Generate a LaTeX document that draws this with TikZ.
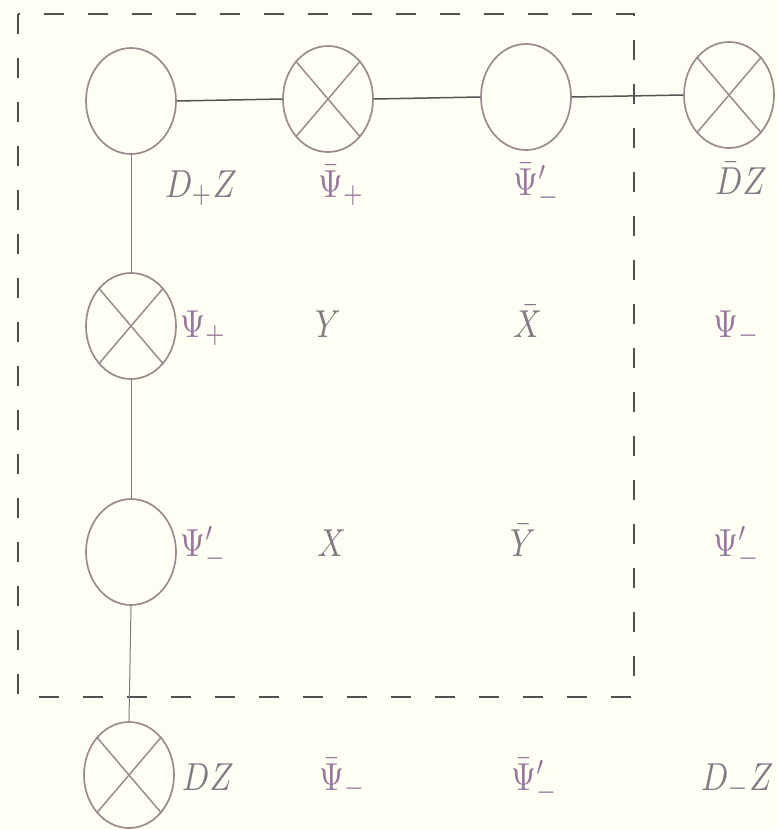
\documentclass[tikz,border=0pt]{standalone}
\usepackage{graphicx}
\usetikzlibrary{shapes.geometric}
\definecolor{bgcream}{RGB}{254,254,244}
\definecolor{ellcol}{RGB}{155,138,143}
\definecolor{linecol}{RGB}{85,85,85}
\definecolor{vlinecol}{RGB}{125,125,125}
\definecolor{boxcol}{RGB}{80,80,80}
\definecolor{greekcol}{RGB}{150,118,155}
\definecolor{latincol}{RGB}{128,122,132}
\newcommand\lab[1]{\scalebox{3.2}[3.9]{$#1$}}
\tikzset{
  oval/.style={draw=ellcol, line width=1.7pt, ellipse, minimum width=90pt, minimum height=106pt, inner sep=0pt},
  xline/.style={draw=ellcol, line width=1.5pt},
  hconn/.style={draw=linecol, line width=1.5pt},
  vconn/.style={draw=vlinecol, line width=1pt},
  frame/.style={draw=boxcol, line width=1.6pt, dash pattern=on 20pt off 24pt},
  glab/.style={text=greekcol, anchor=base west, inner sep=0pt},
  llab/.style={text=latincol, anchor=base west, inner sep=0pt}
}
\begin{document}
\begin{tikzpicture}[x=1pt,y=-1pt]
\fill[bgcream] (0,0) rectangle (778,830);
\useasboundingbox (0,0) rectangle (778,830);
% dashed frame
\draw[frame] (18,14) rectangle (634,697);
% nodes
\node[oval] (a) at (131,101) {};
\node[oval] (b) at (328,99) {};
\node[oval] (c) at (526,97) {};
\node[oval] (d) at (729,95) {};
\node[oval] (e) at (131,326) {};
\node[oval] (f) at (131,552) {};
\node[oval] (g) at (129,775) {};
% crosses
\foreach \n in {b,d,e,g}{
  \draw[xline] (\n.north west) -- (\n.south east);
  \draw[xline] (\n.north east) -- (\n.south west);
}
% connectors
\draw[hconn] (a.east) -- (b.west);
\draw[hconn] (b.east) -- (c.west);
\draw[hconn] (c.east) -- (d.west);
\draw[vconn] (a.south) -- (e.north);
\draw[vconn] (e.south) -- (f.north);
\draw[vconn] (f.south) -- (g.north);
% labels row 1
\node[llab] (l11) at (165,197) {\lab{D_+Z}};
\node[glab] (l12) at (318,197) {\lab{\bar\Psi_+}};
\node[glab] (l13) at (513,195) {\lab{\bar\Psi'_-}};
\node[llab] (l14) at (715,194) {\lab{\bar DZ}};
% row 2
\node[glab] (l21) at (180,337) {\lab{\Psi_+}};
\node[llab] (l22) at (315,337) {\lab{Y}};
\node[llab] (l23) at (513,337) {\lab{\bar X}};
\node[glab] (l24) at (713,337) {\lab{\Psi_-}};
% row 3
\node[glab] (l31) at (180,556) {\lab{\Psi'_-}};
\node[llab] (l32) at (317,556) {\lab{X}};
\node[llab] (l33) at (510,556) {\lab{\bar Y}};
\node[glab] (l34) at (713,556) {\lab{\Psi'_-}};
% row 4
\node[llab] (l41) at (182,790) {\lab{DZ}};
\node[glab] (l42) at (319,790) {\lab{\bar\Psi_-}};
\node[glab] (l43) at (511,790) {\lab{\bar\Psi'_-}};
\node[llab] (l44) at (701,790) {\lab{D_-Z}};
\end{tikzpicture}
\end{document}
